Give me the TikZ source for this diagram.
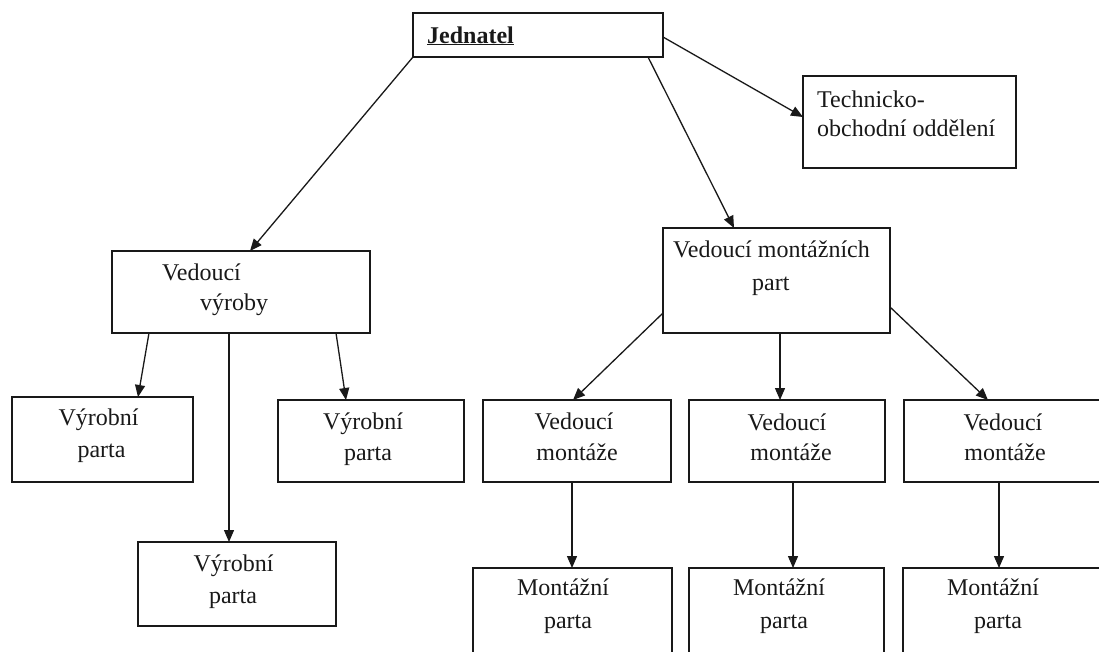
\documentclass[tikz,border=0pt]{standalone}
\usepackage{fontspec}
\setmainfont{Liberation Serif}
\usetikzlibrary{arrows.meta}
\begin{document}
\begin{tikzpicture}[x=1pt,y=-1pt,
  box/.style={draw=black!90,line width=1.5pt,inner sep=0pt,outer sep=0pt},
  lbl/.style={inner sep=0pt,text=black!90,font=\fontsize{24}{28}\selectfont},
  conn/.style={line width=1.3pt,draw=black!90,-{Triangle[length=12pt,width=10pt]}}]
\useasboundingbox[fill=white] (0,0) rectangle (1099,651);
\clip (0,0) rectangle (1099,651);
% boxes
\node[box,minimum width=250pt,minimum height=44pt] (J) at (538,35) {};
\node[box,minimum width=213pt,minimum height=92pt] (T) at (909.5,122) {};
\node[box,minimum width=258pt,minimum height=82pt] (VV) at (241,292) {};
\node[box,minimum width=181pt,minimum height=85pt] (VPL) at (102.5,439.5) {};
\node[box,minimum width=186pt,minimum height=82pt] (VPR) at (371,441) {};
\node[box,minimum width=198pt,minimum height=84pt] (VPB) at (237,584) {};
\node[box,minimum width=227pt,minimum height=105pt] (VMP) at (776.5,280.5) {};
\node[box,minimum width=188pt,minimum height=82pt] (VM1) at (577,441) {};
\node[box,minimum width=196pt,minimum height=82pt] (VM2) at (787,441) {};
\node[box,minimum width=200pt,minimum height=82pt] (VM3) at (1004,441) {};
\node[box,minimum width=199pt,minimum height=90pt] (MP1) at (572.5,613) {};
\node[box,minimum width=195pt,minimum height=90pt] (MP2) at (786.5,613) {};
\node[box,minimum width=201pt,minimum height=90pt] (MP3) at (1003.5,613) {};
% texts
\node[lbl,anchor=base west] (tJ) at (427,43) {\underline{\textbf{Jednatel}}};
\node[lbl,anchor=base west] (tT1) at (817,107) {Technicko-};
\node[lbl,anchor=base west] (tT2) at (817,136) {obchodní oddělení};
\node[lbl,anchor=base west] (tVV1) at (162,280) {Vedoucí};
\node[lbl,anchor=base west] (tVV2) at (200,310) {výroby};
\node[lbl,anchor=base] (tVPL1) at (98.5,425) {Výrobní};
\node[lbl,anchor=base] (tVPL2) at (101.5,457) {parta};
\node[lbl,anchor=base] (tVPR1) at (363,429) {Výrobní};
\node[lbl,anchor=base] (tVPR2) at (368,460) {parta};
\node[lbl,anchor=base] (tVPB1) at (233.5,571) {Výrobní};
\node[lbl,anchor=base] (tVPB2) at (233,603) {parta};
\node[lbl,anchor=base west] (tVMP1) at (673,257) {Vedoucí montážních};
\node[lbl,anchor=base west] (tVMP2) at (752,290) {part};
\node[lbl,anchor=base] (tVM11) at (574,429) {Vedoucí};
\node[lbl,anchor=base] (tVM12) at (577,460) {montáže};
\node[lbl,anchor=base] (tVM21) at (787,430) {Vedoucí};
\node[lbl,anchor=base] (tVM22) at (791,460) {montáže};
\node[lbl,anchor=base] (tVM31) at (1003,430) {Vedoucí};
\node[lbl,anchor=base] (tVM32) at (1005,460) {montáže};
\node[lbl,anchor=base] (tMP11) at (563,595) {Montážní};
\node[lbl,anchor=base] (tMP12) at (568,628) {parta};
\node[lbl,anchor=base] (tMP21) at (779,595) {Montážní};
\node[lbl,anchor=base] (tMP22) at (784,628) {parta};
\node[lbl,anchor=base] (tMP31) at (993,595) {Montážní};
\node[lbl,anchor=base] (tMP32) at (998,628) {parta};
% connectors
\draw[conn] (J.south west) -- ([xshift=138pt]VV.north west);
\draw[conn] ([xshift=-15pt]J.south east) -- ([xshift=71pt]VMP.north west);
\draw[conn] ([yshift=-2pt]J.east) -- ([yshift=5pt]T.west);
\draw[conn] ([xshift=37pt]VV.south west) -- ([xshift=126pt]VPL.north west);
\draw[conn] ([xshift=117pt]VV.south west) -- ([xshift=91pt]VPB.north west);
\draw[conn] ([xshift=224pt]VV.south west) -- ([xshift=68pt]VPR.north west);
\draw[conn] ([yshift=-85pt]VMP.north west) -- ([xshift=90pt]VM1.north west);
\draw[conn] ([xshift=117pt]VMP.south west) -- ([xshift=91pt]VM2.north west);
\draw[conn] ([yshift=-79pt]VMP.north east) -- ([xshift=84pt]VM3.north west);
\draw[conn] ([xshift=89pt]VM1.south west) -- ([xshift=99pt]MP1.north west);
\draw[conn] ([xshift=104pt]VM2.south west) -- ([xshift=104pt]MP2.north west);
\draw[conn] ([xshift=95pt]VM3.south west) -- ([xshift=96pt]MP3.north west);
\end{tikzpicture}
\end{document}
